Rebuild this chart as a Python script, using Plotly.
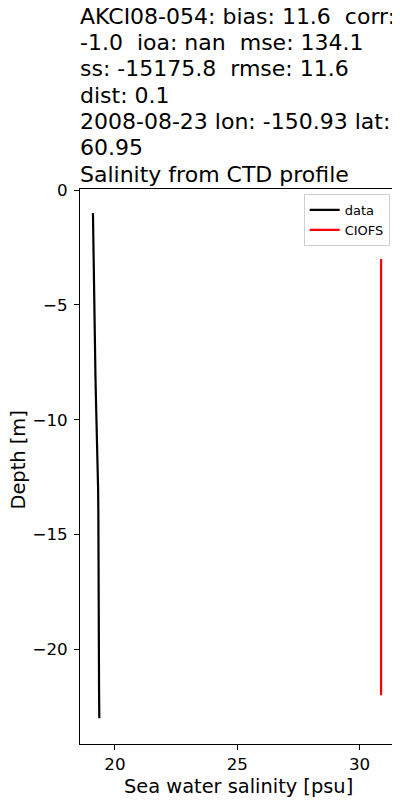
import plotly.graph_objects as go

depth_data = [-1, -2, -3, -4, -5, -6, -7, -8, -9, -10, -11, -12, -13, -14, -15, -16, -17, -18, -19, -20, -21, -22, -23]
salt_data = [19.10, 19.11, 19.12, 19.14, 19.16, 19.18, 19.19, 19.20, 19.22, 19.25, 19.27, 19.29, 19.31, 19.32, 19.32, 19.33, 19.33, 19.34, 19.34, 19.34, 19.35, 19.35, 19.36]
depth_model = [-3, -5, -10, -15, -20, -22]
salt_model = [30.88, 30.88, 30.88, 30.88, 30.88, 30.88]

title_lines = [
    "AKCI08-054: bias: 11.6  corr:",
    "-1.0  ioa: nan  mse: 134.1",
    "ss: -15175.8  rmse: 11.6",
    "dist: 0.1",
    "2008-08-23 lon: -150.93 lat:",
    "60.95",
    "Salinity from CTD profile",
]
x_label = "Sea water salinity [psu]"
y_label = "Depth [m]"

font = "DejaVu Sans"
# page is drawn with an 8px body margin, so the figure is 392x792
W, H = 392, 792
L, R, T, B = 72, 4, 181, 56
plot_h = H - T - B

fig = go.Figure()
fig.add_trace(go.Scatter(x=salt_data, y=depth_data, mode="lines", name="data",
                         line=dict(color="black", width=2.2)))
fig.add_trace(go.Scatter(x=salt_model, y=depth_model, mode="lines", name="CIOFS",
                         line=dict(color="red", width=2.2)))

annotations = []
for i, line in enumerate(title_lines):
    center_fig_y = 8.3 + 26.3 * i
    annotations.append(dict(text=line.replace("  ", " \u00a0"), xref="paper", yref="paper",
                            x=0, y=1, xanchor="left", yanchor="middle",
                            yshift=T - center_fig_y, xshift=-2,
                            align="left", showarrow=False,
                            font=dict(size=22, family=font, color="black")))
annotations.append(dict(text=x_label, xref="paper", yref="paper", x=0.5, y=0,
                        xanchor="center", yanchor="middle", yshift=-42, showarrow=False,
                        font=dict(size=19.4, family=font, color="black")))
annotations.append(dict(text=y_label, xref="paper", yref="paper", x=0, y=(H - B - 452.5) / plot_h,
                        xanchor="center", yanchor="middle", xshift=-(L - 10), textangle=-90,
                        showarrow=False, font=dict(size=19.4, family=font, color="black")))

fig.update_layout(
    width=W, height=H,
    margin=dict(l=L, r=R, t=T, b=B),
    paper_bgcolor="white", plot_bgcolor="white",
    font=dict(family=font, color="black", size=16.7),
    showlegend=True,
    legend=dict(x=0.98, xanchor="right", y=0.991, yanchor="top",
                bordercolor="#d0d0d0", borderwidth=1, bgcolor="white",
                itemwidth=30, font=dict(size=13, family=font)),
    annotations=annotations,
)
fig.update_xaxes(range=[18.57, 31.49], tickvals=[20, 25, 30], ticks="outside", ticklen=5,
                 tickcolor="black", showline=True, linecolor="black", linewidth=1,
                 mirror=True, showgrid=False, zeroline=False, tickfont=dict(size=16.7),
                 ticklabelstandoff=0)
fig.update_yaxes(range=[-24.12, 0.05], tickvals=[0, -5, -10, -15, -20], ticks="outside", ticklen=5,
                 tickcolor="black", showline=True, linecolor="black", linewidth=1,
                 mirror=True, showgrid=False, zeroline=False, tickfont=dict(size=16.7),
                 ticklabelstandoff=3)
fig.write_html("out.html")
